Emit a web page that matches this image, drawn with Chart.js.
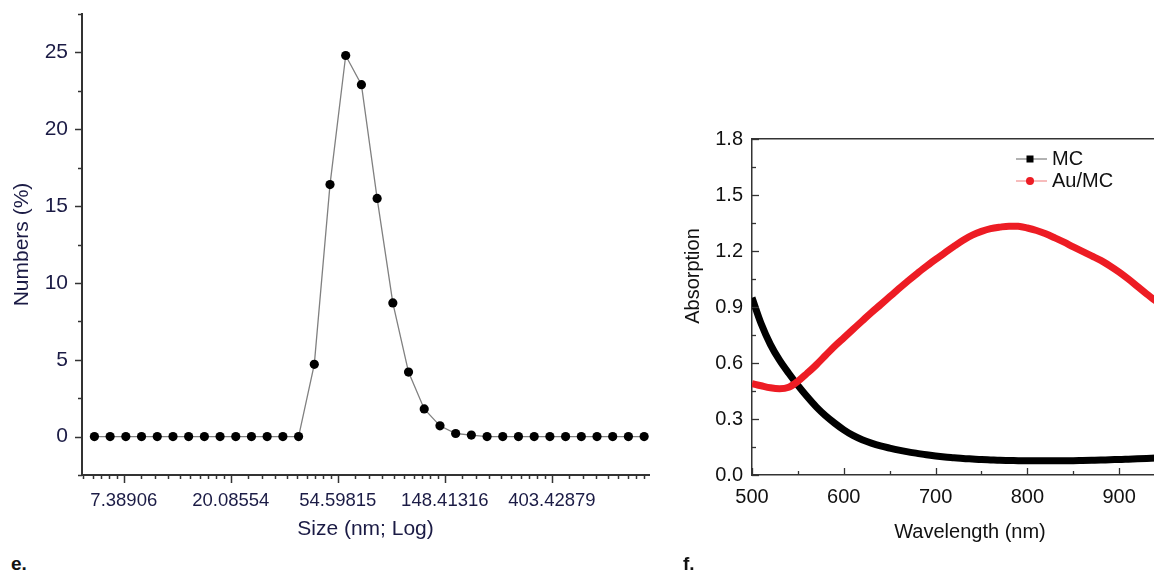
<!DOCTYPE html>
<html><head><meta charset="utf-8">
<script src="https://cdn.jsdelivr.net/npm/chart.js@4.4.1/dist/chart.umd.min.js"></script>
<style>
html,body{margin:0;padding:0;background:#fff;overflow:hidden;width:1154px;height:575px;}
#wrap{position:relative;width:1154px;height:575px;overflow:hidden;background:#fff;}
#c1{position:absolute;left:0;top:0;}
#c2{position:absolute;left:680px;top:0;}
.lab{position:absolute;font-family:"Liberation Sans Narrow","Liberation Sans",Arial,sans-serif;font-weight:bold;font-size:19px;color:#111;}
#ytitle2{position:absolute;font-family:"Liberation Sans",Arial,sans-serif;font-size:20px;color:#111;transform:translate(-50%,-50%) rotate(-90deg);left:692px;top:276px;white-space:nowrap;}
</style></head>
<body><div id="wrap">
<canvas id="c1" width="680" height="545"></canvas>
<canvas id="c2" width="528" height="545"></canvas>
<div id="ytitle2">Absorption</div>
<div class="lab" style="left:11px;top:553px;">e.</div>
<div class="lab" style="left:683px;top:553px;">f.</div>
</div>
<script>
// ---- Panel e: size distribution ----
const sizeBins = [5.615, 6.503, 7.531, 8.721, 10.10, 11.70, 13.54, 15.69, 18.17, 21.04, 24.36, 28.21,
  32.67, 37.84, 43.82, 50.75, 58.77, 68.06, 78.82, 91.28, 105.7, 122.4, 141.8, 164.2, 190.1, 220.2,
  255.0, 295.3, 342.0, 396.1, 458.7, 531.2, 615.1, 712.4, 825.0, 955.4];
const numberPct = [0, 0, 0, 0, 0, 0, 0, 0, 0, 0, 0, 0, 0, 0,
  4.7, 16.4, 24.8, 22.9, 15.5, 8.7, 4.2, 1.8, 0.7, 0.2, 0.1,
  0, 0, 0, 0, 0, 0, 0, 0, 0, 0, 0];
const sizeTickValues = [7.38906, 20.08554, 54.59815, 148.41316, 403.42879];
const sizeTickLabels = ['7.38906', '20.08554', '54.59815', '148.41316', '403.42879'];
const pctTicks = [0, 5, 10, 15, 20, 25];
const pctMinorTicks = [-2.5, 2.5, 7.5, 12.5, 17.5, 22.5, 27.5];

// ---- Panel f: absorption spectra ----
const wavelength = [500, 510, 520, 530, 540, 550, 560, 570, 580, 590, 600, 610, 620, 630, 640, 650,
  660, 670, 680, 690, 700, 710, 720, 730, 740, 750, 760, 770, 780, 790, 800, 810, 820, 830, 840, 850,
  860, 870, 880, 890, 900, 910, 920, 930, 940, 950, 960];
const absMC = [0.95, 0.81, 0.70, 0.615, 0.545, 0.48, 0.42, 0.365, 0.318, 0.278, 0.242, 0.212, 0.189,
  0.171, 0.156, 0.144, 0.133, 0.124, 0.116, 0.108, 0.102, 0.097, 0.093, 0.089, 0.086, 0.083, 0.081,
  0.079, 0.078, 0.077, 0.076, 0.076, 0.076, 0.076, 0.077, 0.077, 0.078, 0.079, 0.080, 0.082, 0.083,
  0.085, 0.087, 0.089, 0.091, 0.093, 0.095];
const absAuMC = [0.49, 0.478, 0.467, 0.462, 0.47, 0.502, 0.545, 0.59, 0.64, 0.69, 0.735, 0.78, 0.825,
  0.87, 0.912, 0.955, 0.998, 1.04, 1.08, 1.118, 1.155, 1.19, 1.225, 1.258, 1.285, 1.305, 1.32, 1.328,
  1.333, 1.332, 1.323, 1.31, 1.292, 1.27, 1.247, 1.222, 1.198, 1.174, 1.15, 1.12, 1.087, 1.05, 1.01,
  0.97, 0.932, 0.895, 0.86];
const wlTicks = [500, 600, 700, 800, 900];
const wlMinorTicks = [550, 650, 750, 850, 950];
const absTicks = [0, 0.3, 0.6, 0.9, 1.2, 1.5, 1.8];
const absTickLabels = ['0.0', '0.3', '0.6', '0.9', '1.2', '1.5', '1.8'];
const absMinorTicks = [0.15, 0.45, 0.75, 1.05, 1.35, 1.65];
const seriesNames = ['MC', 'Au/MC'];

// minor ticks of the natural-log axis: 10 linear subdivisions between e^k and e^(k+1)
function logMinorTicks() {
  const out = [];
  for (let k = 1; k < 7; k++) {
    const a = Math.exp(k), b = Math.exp(k + 1);
    for (let j = 1; j < 10; j++) out.push(a + j * (b - a) / 10);
  }
  return out;
}

const FONT = '"Liberation Sans", Arial, Helvetica, sans-serif';
const NAVY = '#1b1b45';

function noEdgePad(s) { s.paddingTop = 0; s.paddingBottom = 0; s.paddingLeft = 0; s.paddingRight = 0; }

const tickMarks = {
  id: 'tickMarks',
  afterDraw(chart, args, o) {
    const ctx = chart.ctx, ca = chart.chartArea;
    (o.items || []).forEach(it => {
      const s = chart.scales[it.scale];
      ctx.save();
      ctx.strokeStyle = it.color; ctx.lineWidth = it.width;
      const mark = (v, len) => {
        if (v < s.min - 1e-9 || v > s.max + 1e-9) return;
        const p = Math.round(s.getPixelForValue(v)) + 0.5;
        ctx.beginPath();
        if (s.isHorizontal()) { ctx.moveTo(p, ca.bottom); ctx.lineTo(p, ca.bottom + it.dir * len); }
        else { ctx.moveTo(ca.left, p); ctx.lineTo(ca.left - it.dir * len, p); }
        ctx.stroke();
      };
      it.major.forEach(v => mark(v, it.majorLen));
      it.minor.forEach(v => mark(v, it.minorLen));
      ctx.restore();
    });
  }
};

const legendPlace = {
  id: 'legendPlace',
  afterLayout(chart, args, o) {
    const lg = chart.legend;
    if (!lg) return;
    lg.left = o.left; lg.top = o.top; lg.width = o.width; lg.height = o.height;
    lg.right = o.left + o.width; lg.bottom = o.top + o.height;
  }
};

// ---------- Chart e ----------
new Chart(document.getElementById('c1'), {
  type: 'line',
  data: {
    datasets: [{
      label: 'Numbers',
      data: sizeBins.map((s, i) => ({ x: s, y: numberPct[i] })),
      borderColor: '#808080', borderWidth: 1.3,
      pointBackgroundColor: '#000', pointBorderColor: '#000',
      pointRadius: 4.6, pointBorderWidth: 0, tension: 0
    }]
  },
  options: {
    responsive: false, animation: false,
    layout: { padding: { left: 0, top: 14, right: 31, bottom: 0 } },
    plugins: {
      legend: { display: false }, tooltip: { enabled: false },
      tickMarks: { items: [
        { scale: 'x', major: sizeTickValues, minor: logMinorTicks(), majorLen: 8, minorLen: 4, dir: 1, color: '#333', width: 1.5 },
        { scale: 'y', major: pctTicks, minor: pctMinorTicks, majorLen: 7, minorLen: 4, dir: 1, color: '#333', width: 1.5 }
      ] }
    },
    scales: {
      x: {
        type: 'logarithmic', min: 5, max: 1000,
        grid: { display: false, drawTicks: false },
        border: { display: true, color: '#333', width: 2 },
        afterBuildTicks: s => { s.ticks = sizeTickValues.map(v => ({ value: v })); },
        afterFit: s => { s.height = 70; noEdgePad(s); },
        ticks: { autoSkip: false, maxRotation: 0, minRotation: 0, padding: 15, color: NAVY,
          font: { family: FONT, size: 18.5 }, callback: (v, i) => sizeTickLabels[i] },
        title: { display: true, text: 'Size (nm; Log)', color: NAVY, font: { family: FONT, size: 21 },
          padding: { top: 0, bottom: 3 } }
      },
      y: {
        type: 'linear', min: -2.5, max: 27.5,
        grid: { display: false, drawTicks: false },
        border: { display: true, color: '#333', width: 2 },
        afterBuildTicks: s => { s.ticks = pctTicks.map(v => ({ value: v })); },
        afterFit: s => { s.width = 82; noEdgePad(s); },
        ticks: { padding: 14, color: NAVY, font: { family: FONT, size: 21 }, callback: v => String(v) },
        title: { display: true, text: 'Numbers (%)', color: NAVY, font: { family: FONT, size: 21 },
          padding: { top: 10, bottom: 0 } }
      }
    }
  },
  plugins: [tickMarks]
});

// ---------- Chart f ----------
function legendImg(kind) {
  const c = document.createElement('canvas');
  c.width = 34; c.height = 12;
  const g = c.getContext('2d');
  g.lineWidth = 1.2;
  g.strokeStyle = kind === 0 ? '#666' : '#f07a7a';
  g.beginPath(); g.moveTo(0, 6); g.lineTo(34, 6); g.stroke();
  if (kind === 0) { g.fillStyle = '#000'; g.fillRect(13.5, 2.5, 7, 7); }
  else { g.fillStyle = '#ed1c24'; g.beginPath(); g.arc(17, 6, 4, 0, Math.PI * 2); g.fill(); }
  return c;
}
const legendImgs = [legendImg(0), legendImg(1)];

new Chart(document.getElementById('c2'), {
  type: 'line',
  data: {
    datasets: [
      { label: seriesNames[0], data: wavelength.map((w, i) => ({ x: w, y: absMC[i] })),
        borderColor: '#000', borderWidth: 7, pointRadius: 0, cubicInterpolationMode: 'monotone', order: 1 },
      { label: seriesNames[1], data: wavelength.map((w, i) => ({ x: w, y: absAuMC[i] })),
        borderColor: '#ed1c24', borderWidth: 7, pointRadius: 0, cubicInterpolationMode: 'monotone', order: 0 }
    ]
  },
  options: {
    responsive: false, animation: false,
    layout: { padding: { left: 0, top: 139, right: 20, bottom: 0 } },
    plugins: {
      tooltip: { enabled: false },
      legend: {
        display: true, position: 'chartArea', align: 'start',
        labels: {
          usePointStyle: true, pointStyleWidth: 24, padding: 2, color: '#111',
          font: { family: FONT, size: 20 },
          generateLabels: chart => chart.data.datasets.map((d, i) => ({
            text: d.label, pointStyle: legendImgs[i], fillStyle: d.borderColor,
            strokeStyle: d.borderColor, lineWidth: 0, hidden: false, datasetIndex: i, fontColor: '#111'
          }))
        }
      },
      legendPlace: { left: 336, top: 147, width: 160, height: 60 },
      tickMarks: { items: [
        { scale: 'x', major: wlTicks, minor: wlMinorTicks, majorLen: 7, minorLen: 4, dir: -1, color: '#333', width: 1.3 },
        { scale: 'y', major: absTicks, minor: absMinorTicks, majorLen: 7, minorLen: 4, dir: -1, color: '#333', width: 1.3 }
      ] }
    },
    scales: {
      x: {
        type: 'linear', min: 500, max: 975,
        grid: { display: false, drawTicks: false },
        border: { display: true, color: '#333', width: 1.5 },
        afterBuildTicks: s => { s.ticks = wlTicks.map(v => ({ value: v })); },
        afterFit: s => { s.height = 70; noEdgePad(s); },
        ticks: { autoSkip: false, maxRotation: 0, padding: 10, color: '#111',
          font: { family: FONT, size: 20 }, callback: v => String(v) },
        title: { display: true, text: 'Wavelength (nm)', color: '#111', font: { family: FONT, size: 20 },
          padding: { top: 0, bottom: 1 } }
      },
      x2: {
        type: 'linear', position: 'top', min: 500, max: 975,
        grid: { display: false, drawTicks: false },
        ticks: { display: false },
        border: { display: true, color: '#333', width: 1.5 },
        afterFit: s => { s.height = 0; noEdgePad(s); }
      },
      y: {
        type: 'linear', min: 0, max: 1.8,
        grid: { display: false, drawTicks: false },
        border: { display: true, color: '#333', width: 1.5 },
        afterBuildTicks: s => { s.ticks = absTicks.map(v => ({ value: v })); },
        afterFit: s => { s.width = 72; noEdgePad(s); },
        ticks: { padding: 9, color: '#111', font: { family: FONT, size: 20 },
          callback: (v, i) => absTickLabels[i] }
      }
    }
  },
  plugins: [tickMarks, legendPlace]
});
</script>
</body></html>
